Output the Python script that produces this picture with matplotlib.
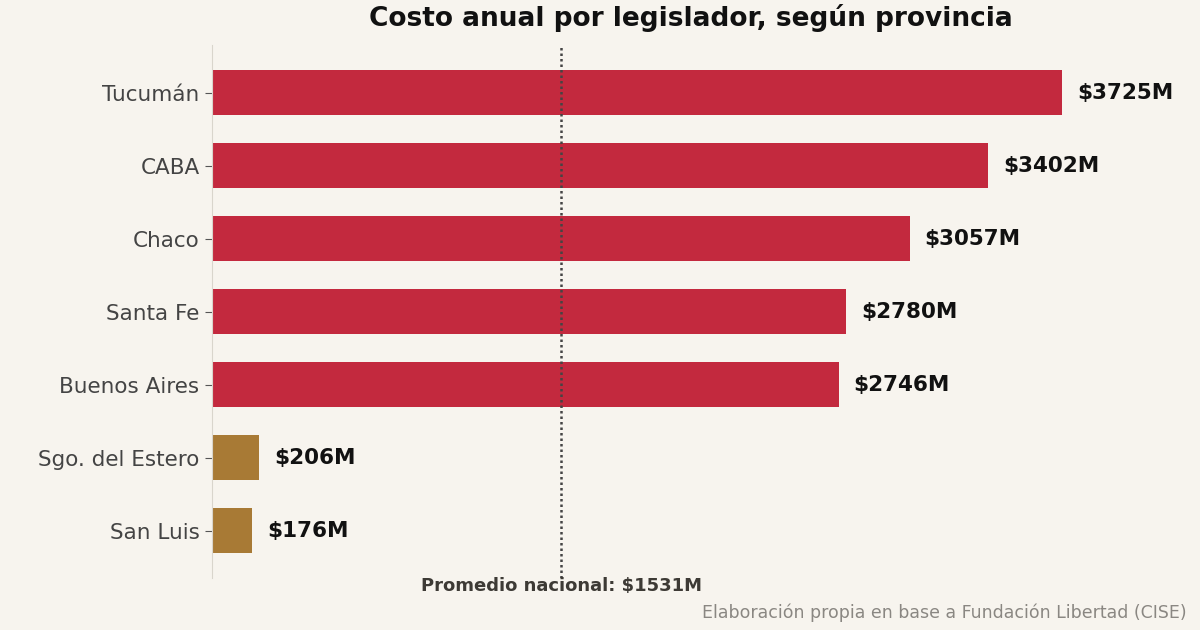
import matplotlib
matplotlib.use("Agg")
import matplotlib.pyplot as plt

provincias = ["Tucumán", "CABA", "Chaco", "Santa Fe", "Buenos Aires", "Sgo. del Estero", "San Luis"]
costos = [3725, 3402, 3057, 2780, 2746, 206, 176]
promedio = 1531

bg = "#F7F4EE"
rojo = "#C3293E"
dorado = "#A87A35"
colores = [rojo if c > promedio else dorado for c in costos]

fig = plt.figure(figsize=(12, 6.3), dpi=100, facecolor=bg)
ax = fig.add_axes([0.1767, 0.0825, 0.8067, 0.846], facecolor=bg)

y = list(range(len(provincias)))
ax.barh(y, costos, height=0.62, color=colores)
ax.set_ylim(6.65, -0.65)
ax.set_xlim(0, 4242)

for yi, c in zip(y, costos):
    ax.text(c + 65, yi, f"${c}M", va="center", ha="left",
            fontsize=15.5, fontweight="bold", color="#111111")

ax.axvline(promedio, color="#444444", linestyle=(0, (1, 1.2)), linewidth=1.8)
ax.text(promedio, 6.76, f"Promedio nacional: ${promedio}M", ha="center", va="center",
        fontsize=13, fontweight="bold", color="#3d3a35")

ax.set_yticks(y)
ax.set_yticklabels(provincias, fontsize=15.5, color="#444444")
ax.tick_params(axis="y", length=5, color="#555555", pad=4)
ax.set_xticks([])
for s in ["top", "right", "bottom"]:
    ax.spines[s].set_visible(False)
ax.spines["left"].set_color("#d9d5cc")

fig.text(0.576, 0.971, "Costo anual por legislador, según provincia", ha="center", va="center",
         fontsize=19, fontweight="bold", color="#111111")
fig.text(0.989, 0.027, "Elaboración propia en base a Fundación Libertad (CISE)", ha="right", va="center",
         fontsize=12.5, color="#8a8782")

fig.savefig("out.png", dpi=100, facecolor=bg)
